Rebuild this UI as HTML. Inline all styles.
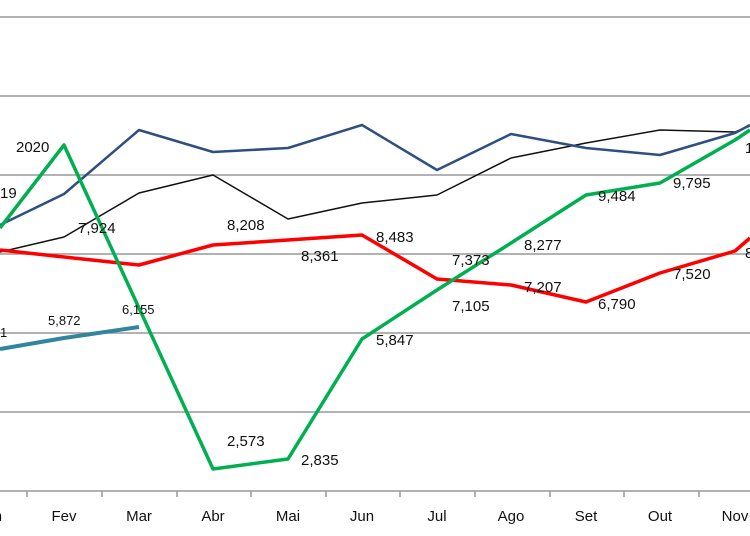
<!DOCTYPE html>
<html><head><style>body{margin:0;background:#fff}svg{display:block}text{font-family:"Liberation Sans",sans-serif;fill:#111}</style></head><body>
<svg width="750" height="536" viewBox="0 0 750 536">
<g stroke="#999" stroke-width="1.5">
<line x1="0" y1="17" x2="750" y2="17"/><line x1="0" y1="96" x2="750" y2="96"/><line x1="0" y1="175" x2="750" y2="175"/><line x1="0" y1="254" x2="750" y2="254"/><line x1="0" y1="333" x2="750" y2="333"/><line x1="0" y1="412" x2="750" y2="412"/><line x1="0" y1="491" x2="750" y2="491"/>
<line x1="27" y1="491" x2="27" y2="497"/><line x1="102" y1="491" x2="102" y2="497"/><line x1="177" y1="491" x2="177" y2="497"/><line x1="251" y1="491" x2="251" y2="497"/><line x1="326" y1="491" x2="326" y2="497"/><line x1="400" y1="491" x2="400" y2="497"/><line x1="475" y1="491" x2="475" y2="497"/><line x1="550" y1="491" x2="550" y2="497"/><line x1="624" y1="491" x2="624" y2="497"/><line x1="699" y1="491" x2="699" y2="497"/>
</g>
<g fill="none" stroke-linejoin="round">
<polyline stroke="#111" stroke-width="1.5" points="0,252 64,237 139,193 213,175 288,219 362,203 437,195 511,158 586,143 660,130 735,132 750,126"/>
<polyline stroke="#2e4f80" stroke-width="2.5" points="0,225 64,194 139,130 213,152 288,148 362,125 437,170 511,134 586,148 660,155 735,133 750,125"/>
<polyline stroke="#f00" stroke-width="3.5" points="0,250 64,257 139,265 213,245 288,240 362,235 437,279 511,285 586,302 660,273 735,251 750,238"/>
<polyline stroke="#00b050" stroke-width="3.5" points="0,228 64,145 213,469 288,459 362,339 437,290 511,243 586,195 660,183 735,140 750,130"/>
<polyline stroke="#31859c" stroke-width="4" points="0,349 64,338 139,327"/>
</g>
<g font-size="15">
<text x="16" y="152">2020</text><text x="0" y="198">19</text><text x="78" y="233">7,924</text><text x="227" y="230">8,208</text><text x="301" y="261">8,361</text><text x="376" y="242">8,483</text><text x="452" y="265">7,373</text><text x="452" y="311">7,105</text><text x="524" y="250">8,277</text><text x="524" y="292">7,207</text><text x="598" y="201">9,484</text><text x="598" y="309">6,790</text><text x="673" y="188">9,795</text><text x="673" y="279">7,520</text><text x="376" y="345">5,847</text><text x="227" y="446">2,573</text><text x="301" y="465">2,835</text><text x="745" y="258">8</text><text x="745" y="153">1</text>
</g>
<g font-size="13"><text x="48" y="325">5,872</text><text x="122" y="314">6,155</text><text x="0" y="337">1</text></g>
<g font-size="15" text-anchor="middle"><text x="-10" y="521">Jan</text><text x="64" y="521">Fev</text><text x="139" y="521">Mar</text><text x="213" y="521">Abr</text><text x="288" y="521">Mai</text><text x="362" y="521">Jun</text><text x="437" y="521">Jul</text><text x="511" y="521">Ago</text><text x="586" y="521">Set</text><text x="660" y="521">Out</text><text x="735" y="521">Nov</text></g>
</svg>
</body></html>
